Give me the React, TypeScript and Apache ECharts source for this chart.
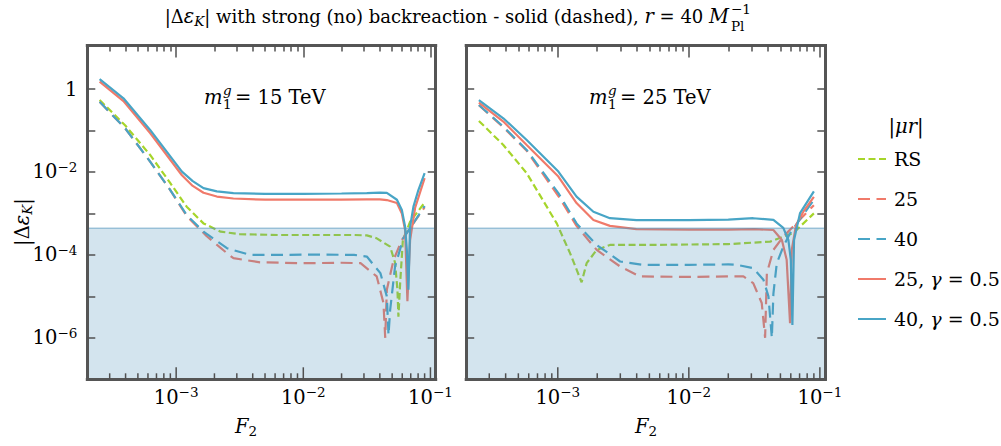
import React, { useEffect, useRef } from 'react';
import * as echarts from 'echarts';

const FONT = "'DejaVu Serif', 'Liberation Serif', serif";
const FS = 19.5; // main text size
const SS = 13.5; // script size

// axis ranges (real units)
const F2_MIN = 2e-4;
const F2_MAX = 0.11;
const DEPS_MIN = 1e-7;
const DEPS_MAX = 11.2;
const EPS_K_BOUND = 4.4e-4;

const X_MAJOR_POWERS = [-3, -2, -1];
const X_MINOR_DECADES = [-4, -3, -2, -1];
const MINOR_MULTIPLIERS = [2, 3, 4, 5, 6, 7, 8, 9];
const Y_TICK_POWERS = [-6, -5, -4, -3, -2, -1, 0];
const Y_LABEL_POWERS = [-6, -4, -2, 0];

const SERIES_NAMES = ['RS', '25', '40', '25, γ = 0.5', '40, γ = 0.5'];
const PANEL_MASSES = ['15', '25'];

type Pt = [number, number];

// ---- m1 = 15 TeV panel : [F2, |Δε_K|]
const m15_RS: Pt[] = [
  [2.5e-4, 0.543], [3.98e-4, 0.132], [6.24e-4, 0.0257], [8.91e-4, 5.62e-3], [1.21e-3, 1.45e-3],
  [1.64e-3, 5.75e-4], [2.24e-3, 3.63e-4], [3.16e-3, 3.16e-4], [6.31e-3, 3.02e-4], [1.26e-2, 3.02e-4],
  [2.51e-2, 3.02e-4], [3.16e-2, 2.95e-4], [3.78e-2, 2.51e-4], [4.82e-2, 1.58e-4], [5.27e-2, 6.46e-5],
  [5.5e-2, 1.45e-5], [5.6e-2, 3.24e-6], [5.78e-2, 2.14e-5], [6.07e-2, 2.29e-4], [6.92e-2, 6.31e-4],
  [9.0e-2, 1.82e-3],
];
const m15_mu25: Pt[] = [
  [2.5e-4, 0.49], [3.98e-4, 0.112], [6.24e-4, 0.0178], [8.91e-4, 3.8e-3], [1.21e-3, 8.7e-4],
  [1.74e-3, 2.82e-4], [2.51e-3, 1.1e-4], [2.82e-3, 8.32e-5], [4.57e-3, 6.61e-5], [1.0e-2, 6.31e-5],
  [2.0e-2, 6.46e-5], [2.82e-2, 6.31e-5], [3.78e-2, 3.02e-5], [4.27e-2, 6.92e-6], [4.41e-2, 1.0e-6],
  [4.54e-2, 1.45e-5], [5.13e-2, 7.59e-5], [5.96e-2, 2.29e-4], [9.0e-2, 1.41e-3],
];
const m15_mu40: Pt[] = [
  [2.5e-4, 0.49], [3.98e-4, 0.112], [6.24e-4, 0.0178], [8.91e-4, 3.8e-3], [1.21e-3, 9.12e-4],
  [1.64e-3, 3.63e-4], [2.51e-3, 1.45e-4], [3.8e-3, 1.0e-4], [6.31e-3, 1.0e-4], [1.26e-2, 1.02e-4],
  [2.51e-2, 1.0e-4], [3.16e-2, 9.12e-5], [4.04e-2, 3.63e-5], [4.54e-2, 1.0e-5], [4.68e-2, 1.17e-6],
  [4.82e-2, 4.68e-6], [5.27e-2, 5.25e-5], [6.12e-2, 2.51e-4], [9.0e-2, 1.51e-3],
];
const m15_mu25g: Pt[] = [
  [2.5e-4, 1.51], [3.85e-4, 0.513], [6.24e-4, 0.0871], [1.11e-3, 8.32e-3], [1.35e-3, 4.6e-3],
  [1.64e-3, 3.16e-3], [2.09e-3, 2.55e-3], [2.82e-3, 2.29e-3], [5.0e-3, 2.14e-3], [1.0e-2, 2.14e-3],
  [2.0e-2, 2.16e-3], [3.16e-2, 2.19e-3], [4.0e-2, 2.19e-3], [4.54e-2, 2.1e-3], [5.45e-2, 1.78e-3],
  [5.96e-2, 1.0e-3], [6.32e-2, 3.98e-4], [6.59e-2, 7.59e-6], [6.92e-2, 2.29e-4], [7.57e-2, 1.35e-3],
  [9.0e-2, 7.08e-3],
];
const m15_mu40g: Pt[] = [
  [2.5e-4, 1.74], [3.85e-4, 0.596], [6.24e-4, 0.103], [1.11e-3, 0.0102], [1.35e-3, 6.03e-3],
  [1.64e-3, 4.07e-3], [2.09e-3, 3.39e-3], [2.82e-3, 3.09e-3], [5.0e-3, 2.95e-3], [1.0e-2, 2.95e-3],
  [2.0e-2, 3.02e-3], [3.16e-2, 3.09e-3], [4.0e-2, 3.16e-3], [4.54e-2, 3.12e-3], [5.45e-2, 2.14e-3],
  [5.96e-2, 1.21e-3], [6.32e-2, 4.79e-4], [6.52e-2, 1.32e-4], [6.71e-2, 1.45e-5], [6.92e-2, 4.79e-4],
  [7.35e-2, 1.46e-3], [8.05e-2, 3.72e-3], [9.0e-2, 9.33e-3],
];

// ---- m1 = 25 TeV panel : [F2, |Δε_K|]
const m25_RS: Pt[] = [
  [2.5e-4, 0.17], [3.84e-4, 0.0447], [5.79e-4, 9.33e-3], [9.82e-4, 5.75e-4], [1.24e-3, 1.1e-4],
  [1.52e-3, 2.19e-5], [1.66e-3, 6.31e-5], [1.98e-3, 1.32e-4], [2.5e-3, 1.74e-4], [5.0e-3, 1.74e-4],
  [1.0e-2, 1.78e-4], [2.0e-2, 1.82e-4], [4.17e-2, 2.09e-4], [6.28e-2, 3.39e-4], [9.0e-2, 1.0e-3],
];
const m25_mu25: Pt[] = [
  [2.5e-4, 0.407], [3.84e-4, 0.12], [5.79e-4, 0.0324], [1.01e-3, 2.63e-3], [1.39e-3, 5.01e-4],
  [1.98e-3, 1.32e-4], [2.99e-3, 5.25e-5], [4.24e-3, 3.02e-5], [1.0e-2, 2.95e-5], [2.0e-2, 3.02e-5],
  [2.61e-2, 3.02e-5], [3.1e-2, 2.09e-5], [3.6e-2, 6.92e-6], [3.82e-2, 1.0e-6], [3.87e-2, 4.68e-6],
  [3.94e-2, 3.63e-5], [4.42e-2, 1.32e-4], [5.26e-2, 2.75e-4], [9.0e-2, 1.58e-3],
];
const m25_mu40: Pt[] = [
  [2.5e-4, 0.411], [3.84e-4, 0.124], [5.79e-4, 0.0339], [1.01e-3, 3.09e-3], [1.39e-3, 5.75e-4],
  [1.98e-3, 1.74e-4], [2.99e-3, 6.92e-5], [4.5e-3, 5.75e-5], [1.0e-2, 5.75e-5], [2.0e-2, 5.89e-5],
  [2.32e-2, 5.75e-5], [3.1e-2, 4.79e-5], [3.71e-2, 2.51e-5], [4.05e-2, 1.0e-5], [4.3e-2, 1.0e-6],
  [4.42e-2, 1.17e-5], [4.69e-2, 6.31e-5], [5.26e-2, 1.58e-4], [5.92e-2, 3.31e-4], [9.0e-2, 2.14e-3],
];
const m25_mu25g: Pt[] = [
  [2.5e-4, 0.468], [3.84e-4, 0.164], [5.79e-4, 0.0447], [1.01e-3, 7.76e-3], [1.39e-3, 1.78e-3],
  [1.87e-3, 6.97e-4], [2.5e-3, 5.01e-4], [3.98e-3, 4.17e-4], [1.0e-2, 4.07e-4], [2.0e-2, 4.07e-4],
  [3.16e-2, 4.17e-4], [4.42e-2, 3.98e-4], [5.13e-2, 2.29e-4], [5.58e-2, 7.59e-5], [5.92e-2, 2.24e-6],
  [6.1e-2, 1.32e-4], [6.58e-2, 5.25e-4], [7.48e-2, 1.1e-3], [9.0e-2, 2.51e-3],
];
const m25_mu40g: Pt[] = [
  [2.5e-4, 0.543], [3.84e-4, 0.197], [5.79e-4, 0.059], [1.01e-3, 0.0102], [1.39e-3, 2.54e-3],
  [1.87e-3, 1.1e-3], [2.5e-3, 7.66e-4], [3.98e-3, 6.92e-4], [1.0e-2, 6.92e-4], [2.0e-2, 7.08e-4],
  [3.1e-2, 7.66e-4], [4.42e-2, 6.97e-4], [5.26e-2, 4.47e-4], [5.75e-2, 2.29e-4], [6.0e-2, 7.59e-5],
  [6.17e-2, 2.04e-6], [6.35e-2, 2.29e-4], [7.06e-2, 1.02e-3], [9.0e-2, 3.39e-3],
];

const PANELS: Pt[][][] = [
  [m15_RS, m15_mu25, m15_mu40, m15_mu25g, m15_mu40g],
  [m25_RS, m25_mu25, m25_mu40, m25_mu25g, m25_mu40g],
];

// ---- text
const TITLE_MAIN = '|Δ{i|ε}{sbi|K}| with strong (no) backreaction - solid (dashed), {i|r} = 40 {i|M}';
const TITLE_SUP = '−1';
const TITLE_SUB = 'Pl';
const LEGEND_TITLE = '|{i|μr}|';

// ---- styles
const GREEN = '#a6d52a';
const RED = '#f07a6a';
const BLUE = '#48a5c6';
const AXIS_COLOR = '#555555';
const TICK_COLOR = '#505050';
const SHADE = 'rgba(79,147,187,0.25)';
const SHADE_EDGE = 'rgba(79,147,187,0.5)';
const MAJOR_LEN = 12;
const MINOR_LEN = 6;
const LINE_STYLES: { color: string; type: any }[] = [
  { color: GREEN, type: [7, 3.5] },
  { color: RED, type: [12, 6.5] },
  { color: BLUE, type: [12, 6.5] },
  { color: RED, type: 'solid' },
  { color: BLUE, type: 'solid' },
];
const GRIDS = [
  { left: 87.3, top: 45.5, width: 348.4, height: 333.8 },
  { left: 466.2, top: 45.5, width: 359.1, height: 333.8 },
];

const lg = Math.log10;
const X0 = lg(F2_MIN);
const X1 = lg(F2_MAX);
const Y0 = lg(DEPS_MIN);
const Y1 = lg(DEPS_MAX);
const MINOR_X = X_MINOR_DECADES.flatMap((d) => MINOR_MULTIPLIERS.map((m) => d + lg(m))).filter(
  (v) => v > X0 && v < X1
);

const tok = (extra: any) => ({ fontFamily: FONT, color: '#000', fill: '#000', ...extra });
const RICH: any = {
  b: tok({ fontSize: FS, lineHeight: 24 }),
  i: tok({ fontSize: FS, lineHeight: 24, fontStyle: 'italic' }),
  sp: tok({ fontSize: SS, lineHeight: 14, verticalAlign: 'top' }),
  sb: tok({ fontSize: SS, lineHeight: 14, verticalAlign: 'bottom' }),
  sbi: tok({ fontSize: SS, lineHeight: 14, verticalAlign: 'bottom', fontStyle: 'italic' }),
};

const powLabel = (v: number) => {
  const n = Math.round(v);
  return n === 0 ? '{b|1}' : `{b|10}{sp|−${-n}}`;
};

function tick(length: number, values: number[]) {
  return { show: true, inside: true, length, customValues: values, lineStyle: { color: TICK_COLOR, width: 1.5 } };
}
function frame() {
  return { show: true, onZero: false, lineStyle: { color: AXIS_COLOR, width: 3, cap: 'square' } };
}
function hidden() {
  return { show: false, onZero: false };
}

function xAxes(gridIndex: number) {
  const base = () => ({
    type: 'value', gridIndex, min: X0, max: X1, z: 10, splitLine: { show: false },
  });
  return [
    {
      ...base(), position: 'bottom', axisLine: frame(), axisTick: { show: false },
      axisLabel: {
        show: true, customValues: X_MAJOR_POWERS, formatter: powLabel, rich: RICH, margin: 6,
        color: '#000', fontFamily: FONT,
      },
    },
    { ...base(), position: 'top', axisLine: frame(), axisTick: tick(MAJOR_LEN, X_MAJOR_POWERS), axisLabel: { show: false } },
    { ...base(), position: 'top', axisLine: hidden(), axisTick: tick(MINOR_LEN, MINOR_X), axisLabel: { show: false } },
  ];
}

function yAxes(gridIndex: number, showLabels: boolean) {
  const base = () => ({
    type: 'value', gridIndex, min: Y0, max: Y1, z: 10, splitLine: { show: false }, axisLine: frame(),
    axisTick: tick(8, Y_TICK_POWERS),
  });
  return [
    {
      ...base(), position: 'left',
      axisLabel: showLabels
        ? { show: true, customValues: Y_LABEL_POWERS, formatter: powLabel, rich: RICH, margin: 10, color: '#000', fontFamily: FONT }
        : { show: false },
    },
    { ...base(), position: 'right', axisLabel: { show: false } },
  ];
}

function txt(x: number, y: number, text: string, opts: any = {}) {
  const { fontSize = FS, align = 'left', italic = false, rotation = 0 } = opts;
  return {
    type: 'text', x, y, rotation, silent: true, z: 20,
    style: {
      text, fontFamily: FONT, fontSize, fontStyle: italic ? 'italic' : 'normal', fill: '#000',
      align, textAlign: align, verticalAlign: 'middle', textVerticalAlign: 'middle',
      lineHeight: fontSize >= 17 ? 24 : 14, rich: RICH,
    },
  };
}

const X_AXES_PER_GRID = 3;

function buildOption() {
  const series: any[] = [];
  PANELS.forEach((panel, p) => {
    const xi = p * X_AXES_PER_GRID;
    const yi = p * 2;
    panel.forEach((pts, k) => {
      series.push({
        type: 'line', name: SERIES_NAMES[k], xAxisIndex: xi, yAxisIndex: yi,
        data: pts.map(([x, y]) => [lg(x), lg(y)]),
        symbol: 'none', showSymbol: false, smooth: false, z: 2,
        lineStyle: { color: LINE_STYLES[k].color, width: 2.2, type: LINE_STYLES[k].type },
        itemStyle: { color: LINE_STYLES[k].color },
        emphasis: { disabled: true },
      });
    });
    series.push({
      type: 'line', name: 'bound', xAxisIndex: xi, yAxisIndex: yi,
      data: [[X0, lg(EPS_K_BOUND)], [X1, lg(EPS_K_BOUND)]],
      symbol: 'none', silent: true, z: 5,
      lineStyle: { color: SHADE_EDGE, width: 1.5 },
      areaStyle: { color: SHADE, origin: 'start', opacity: 1 },
      emphasis: { disabled: true },
    });
    // bottom-edge tick marks (major + minor), pointing into the plot area
    series.push({
      type: 'custom', name: 'bottomTicks', xAxisIndex: xi, yAxisIndex: yi, silent: true, clip: false, z: 11,
      data: [
        ...X_MAJOR_POWERS.map((v) => [v, Y0, MAJOR_LEN]),
        ...MINOR_X.map((v) => [v, Y0, MINOR_LEN]),
      ],
      encode: { x: 0, y: 1 },
      renderItem: (_params: any, api: any) => {
        const xv = api.value(0);
        const len = api.value(2);
        const pBottom = api.coord([xv, Y0]);
        const pTop = api.coord([xv, Y1]);
        const pxPerUnit = Math.abs(pBottom[1] - pTop[1]) / (Y1 - Y0);
        const pEnd = api.coord([xv, Y0 + len / pxPerUnit]);
        return {
          type: 'line',
          shape: { x1: pBottom[0], y1: pBottom[1], x2: pEnd[0], y2: pEnd[1] },
          style: { stroke: TICK_COLOR, lineWidth: 1.5 },
        };
      },
    });
  });

  const graphic: any[] = [
    txt(729, 16, TITLE_MAIN, { align: 'right', fontSize: 18 }),
    txt(731, 8.5, TITLE_SUP, { fontSize: SS }),
    txt(731, 26, TITLE_SUB, { fontSize: SS }),
    txt(22, 222, '|Δ{i|ε}{sbi|K}|', { align: 'center', rotation: Math.PI / 2 }),
    txt(246, 426, '{i|F}{sb|2}', { align: 'center' }),
    txt(646, 426, '{i|F}{sb|2}', { align: 'center' }),
    txt(906, 126, LEGEND_TITLE, { align: 'center' }),
  ];
  const labelX = [204, 589];
  PANEL_MASSES.forEach((m, p) => {
    const x = labelX[p];
    graphic.push(txt(x, 97, '{i|m}'));
    graphic.push(txt(x + 19, 89.5, 'g', { fontSize: SS, italic: true }));
    graphic.push(txt(x + 19, 103.5, '1', { fontSize: SS }));
    graphic.push(txt(x + 31, 97, `= ${m} TeV`));
  });

  return {
    animation: false,
    backgroundColor: '#ffffff',
    grid: GRIDS.map((g) => ({ ...g, containLabel: false, outerBoundsMode: 'none', show: false })),
    xAxis: [...xAxes(0), ...xAxes(1)],
    yAxis: [...yAxes(0, true), ...yAxes(1, false)],
    legend: {
      data: SERIES_NAMES,
      orient: 'vertical',
      left: 857,
      top: 149,
      itemWidth: 28,
      itemHeight: 14,
      itemGap: 20,
      selectedMode: false,
      padding: 0,
      itemStyle: { color: 'rgba(0,0,0,0)', borderColor: 'rgba(0,0,0,0)', borderWidth: 0 },
      textStyle: {
        fontFamily: FONT, fontSize: 19, lineHeight: 20, color: '#000', padding: [0, 0, 0, 3],
        rich: {
          i: { fontFamily: FONT, fontSize: 19, lineHeight: 20, fontStyle: 'italic', color: '#000' },
        },
      },
      formatter: (name: string) => name.replace('γ', '{i|γ}'),
    },
    graphic,
    series,
  };
}

export default function App() {
  const ref = useRef<HTMLDivElement>(null);
  useEffect(() => {
    if (!ref.current) return;
    const chart = echarts.init(ref.current, null, { renderer: 'svg' });
    chart.setOption(buildOption() as any);
    return () => chart.dispose();
  }, []);
  return (
    <div
      ref={ref}
      style={{ position: 'fixed', left: 0, top: 0, width: 1001, height: 446, background: '#fff' }}
    />
  );
}
